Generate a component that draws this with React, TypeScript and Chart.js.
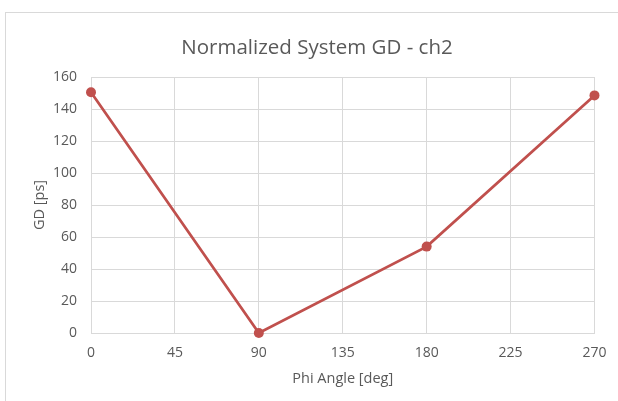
import React, { useEffect, useRef } from "react";
import { Chart, registerables } from "chart.js";

Chart.register(...registerables);

const chartTitle = "Normalized System GD - ch2";
const xAxisTitle = "Phi Angle [deg]";
const yAxisTitle = "GD [ps]";
const phiAngles = [0, 90, 180, 270];
const gdValues = [150.5, 0, 54, 148.5];
const xTickStep = 45;
const yTickStep = 20;

const FONT = '"Open Sans", "Noto Sans", sans-serif';
const TEXT = "#595959";
const GRID = "#d9d9d9";
const LINE = "#c0504d";

const titlePlugin = {
  id: "centerTitle",
  afterDraw(chart: any) {
    const ctx = chart.ctx;
    ctx.save();
    ctx.font = `20.5px ${FONT}`;
    ctx.fillStyle = TEXT;
    ctx.textAlign = "center";
    ctx.textBaseline = "middle";
    ctx.fillText(chartTitle, 317, 48);
    ctx.restore();
  },
};

export default function App() {
  const ref = useRef<HTMLCanvasElement>(null);
  useEffect(() => {
    if (!ref.current) return;
    const chart = new Chart(ref.current, {
      type: "line",
      data: {
        datasets: [
          {
            data: phiAngles.map((x, i) => ({ x, y: gdValues[i] })),
            borderColor: LINE,
            backgroundColor: LINE,
            borderWidth: 2.75,
            pointRadius: 5,
            pointBackgroundColor: LINE,
            pointBorderWidth: 0,
            tension: 0,
            clip: false as any,
          },
        ],
      },
      plugins: [titlePlugin],
      options: {
        animation: false,
        responsive: false,
        layout: { padding: { top: 77, left: 31, right: 23, bottom: 0 } },
        plugins: {
          legend: { display: false },
          title: { display: false },
          tooltip: { enabled: false },
        },
        scales: {
          x: {
            type: "linear",
            min: 0,
            max: 270,
            afterFit: (s: any) => {
              s.height = 68;
            },
            ticks: {
              stepSize: xTickStep,
              color: TEXT,
              font: { family: FONT, size: 14 },
              padding: 11.5,
              maxRotation: 0,
            },
            grid: { color: GRID, lineWidth: 1, drawTicks: false },
            border: { color: GRID },
            title: {
              display: true,
              text: xAxisTitle,
              color: TEXT,
              font: { family: FONT, size: 14.5 },
              padding: { top: 0, bottom: 13 },
            },
          },
          y: {
            min: 0,
            max: 160,
            afterFit: (s: any) => {
              s.width = 60;
            },
            ticks: {
              stepSize: yTickStep,
              color: TEXT,
              font: { family: FONT, size: 14 },
              padding: 14,
            },
            grid: { color: GRID, lineWidth: 1, drawTicks: false },
            border: { color: GRID },
            title: {
              display: true,
              text: yAxisTitle,
              color: TEXT,
              font: { family: FONT, size: 14.5 },
              padding: { top: 0, bottom: 0 },
            },
          },
        },
      },
    });
    return () => chart.destroy();
  }, []);

  return (
    <div
      style={{
        position: "fixed",
        left: 0,
        top: 0,
        width: 618,
        height: 401,
        overflow: "hidden",
        background: "#fff",
      }}
    >
      <div
        style={{
          position: "absolute",
          left: 5,
          top: 12,
          width: 700,
          height: 500,
          border: "1px solid #d9d9d9",
          boxSizing: "border-box",
        }}
      />
      <canvas
        ref={ref}
        width={618}
        height={401}
        style={{ position: "absolute", left: 0, top: 0, width: 618, height: 401 }}
      />
    </div>
  );
}
